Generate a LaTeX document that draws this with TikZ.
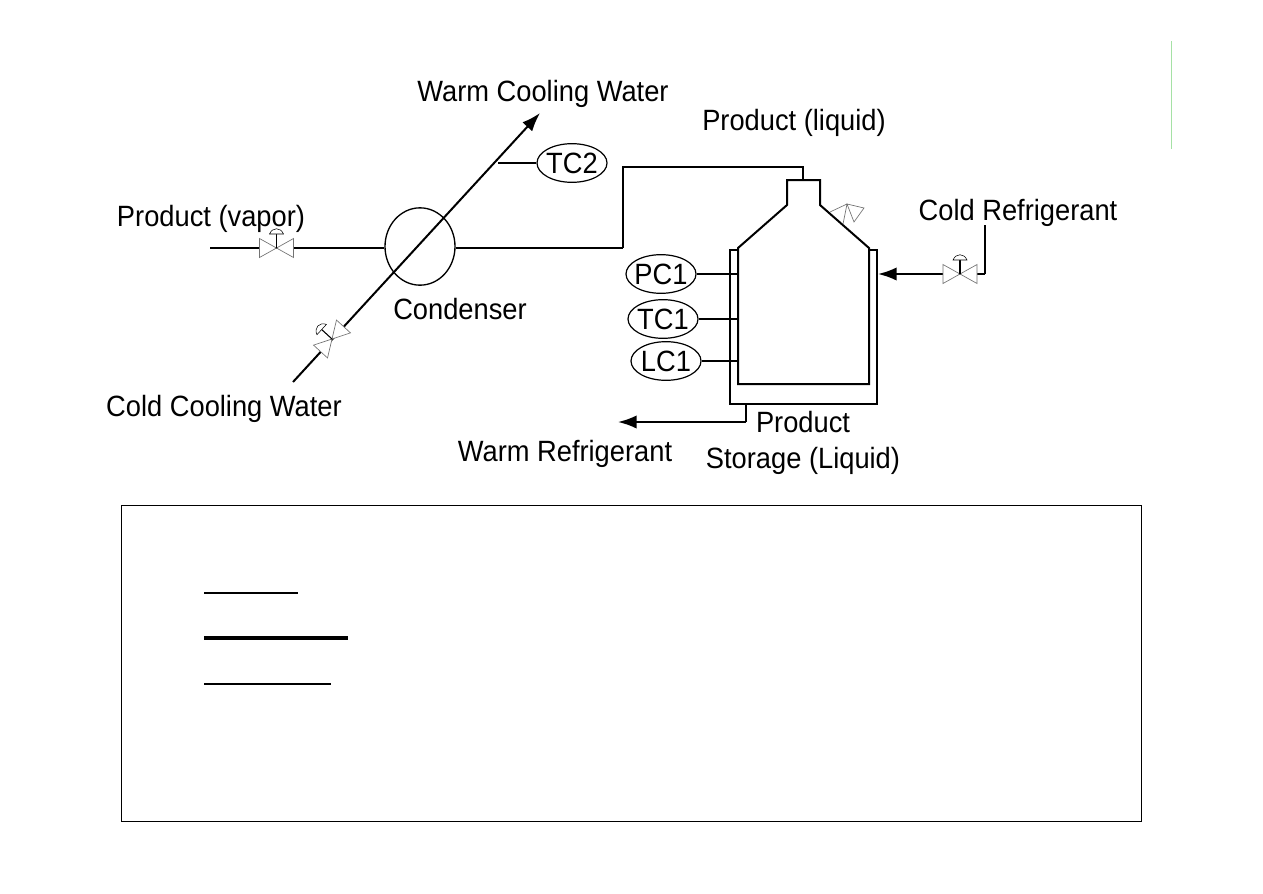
\documentclass[tikz,border=0pt]{standalone}
\usepackage{fontspec}
\setmainfont[FakeStretch=0.93]{Liberation Sans}
\usetikzlibrary{arrows.meta,shapes.geometric}
\definecolor{marginline}{RGB}{165,225,165}

\tikzset{
	pipe/.style={line width=1.5pt, black},
	thinpipe/.style={line width=1pt, black},
	flow/.style={pipe, -{Latex[length=14pt, width=10pt]}},
	tagline/.style={draw, ellipse, line width=0.9pt, minimum width=52.5pt, minimum height=29pt, inner sep=-5pt},
	label/.style={font=\fontsize{22pt}{24pt}\selectfont},
	stream/.style={label, yshift=-2.2pt},
	pics/ctrlvalve/.style={code={
		\draw[line width=0.5pt, black!55, fill=white] (0,0) -- (-17,-9.5) -- (-17,9.5) -- cycle;
		\draw[line width=0.5pt, black!55, fill=white] (0,0) -- (17,-9.5) -- (17,9.5) -- cycle;
		\draw[line width=0.8pt] (0,0) -- (0,-14);
		\draw[line width=0.4pt, fill=white] (-7,-14) .. controls (-4,-21) and (4,-21) .. (7,-14) -- cycle;
	}}
}

\begin{document}
\begin{tikzpicture}[x=0.75pt, y=-0.75pt]
	\useasboundingbox (0,0) rectangle (1263,893);

	% Points
	\coordinate (vaporIn) at (210,248);
	\coordinate (vaporValve) at (276.5,248);
	\coordinate (waterIn) at (293,382);
	\coordinate (waterValve) at (332,339);
	\coordinate (waterOut) at (540,113);
	\coordinate (waterTap) at (498,163);
	\coordinate (bendA) at (623,248);
	\coordinate (bendB) at (623,167);
	\coordinate (bendC) at (803,167);
	\coordinate (neckTop) at (803,180);
	\coordinate (refrigIn) at (985,225);
	\coordinate (refrigBend) at (985,274);
	\coordinate (refrigValve) at (960,274);
	\coordinate (jacketIn) at (878,274);
	\coordinate (jacketOut) at (746,404);
	\coordinate (jacketBend) at (746,422);
	\coordinate (refrigOut) at (618,422);
	\coordinate (tapP) at (738,274);
	\coordinate (tapT) at (738,319);
	\coordinate (tapL) at (738,361);

	% Condenser and controllers
	\node[draw, ellipse, line width=1pt, minimum width=52.5pt, minimum height=58pt, inner sep=0pt] (condenser) at (420,246.5) {};
	\node[tagline, label] (tc2) at (572,163) {TC2};
	\node[tagline, label] (pc1) at (661,274) {PC1};
	\node[tagline, label] (tc1) at (663,319) {TC1};
	\node[tagline, label] (lc1) at (666,361) {LC1};

	% Product line
	\draw[pipe] (vaporIn) -- (condenser.west |- vaporIn);
	\draw[pipe] (condenser.east |- bendA) -- (bendA);
	\draw[thinpipe] (bendA) -- (bendB) -- (bendC) -- (neckTop);

	% Cooling water line
	\draw[flow] (waterIn) -- (waterOut);
	\draw[thinpipe] (tc2.west) -- (waterTap);

	% Jacket
	\draw[thinpipe] (738,250) -- (730,250) -- (730,404) -- (877,404) -- (877,250) -- (869,250);
	\draw[pipe] (787,205) -- (787,180) -- (820,180) -- (820,205) -- (869,248)
		-- (869,384) -- (738,384) -- (738,248) -- cycle;

	% Relief device
	\draw[line width=0.5pt, black!55] (830,212) -- (847,204) -- (864,208) -- (854,222) -- (847,204) -- (843,224);

	% Refrigerant lines
	\draw[thinpipe] (refrigIn) -- (refrigBend);
	\draw[flow] (refrigBend) -- (jacketIn);
	\draw[thinpipe] (jacketOut) -- (jacketBend);
	\draw[flow] (jacketBend) -- (refrigOut);

	% Controller leads
	\draw[pipe] (pc1.east) -- (tapP);
	\draw[thinpipe] (tc1.east) -- (tapT);
	\draw[thinpipe] (lc1.east) -- (tapL);

	% Valves
	\pic at (vaporValve) {ctrlvalve};
	\pic[rotate=47.5] at (waterValve) {ctrlvalve};
	\pic at (refrigValve) {ctrlvalve};

	% Stream labels
	\node[stream] (warmWater) at (543,91) {Warm Cooling Water};
	\node[stream] (liquid) at (794,120) {Product (liquid)};
	\node[stream] (vapor) at (211,216) {Product (vapor)};
	\node[stream] (coldRefrig) at (1018,210) {Cold Refrigerant};
	\node[label] (condName) at (460,309) {Condenser};
	\node[stream] (coldWater) at (224,406) {Cold Cooling Water};
	\node[stream] (warmRefrig) at (565,451) {Warm Refrigerant};
	\node[label] (storeA) at (803,422) {Product};
	\node[stream] (storeB) at (803,458) {Storage (Liquid)};

	% Lower panel
	\draw[line width=0.7pt] (121,505) rectangle (1141,821);
	\draw[line width=1.8pt] (204,593) -- (298,593);
	\draw[line width=2.4pt] (204,638) -- (348,638);
	\draw[line width=1.8pt] (204,684) -- (331,684);

	% Margin rule
	\draw[line width=0.6pt, marginline] (1171,41) -- (1171,149);
\end{tikzpicture}
\end{document}
